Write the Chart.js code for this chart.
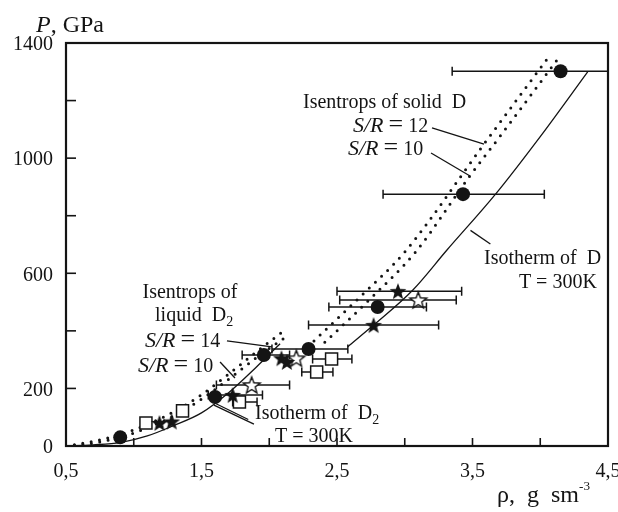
<!DOCTYPE html>
<html><head><meta charset="utf-8">
<script src="https://cdn.jsdelivr.net/npm/chart.js@4.4.0/dist/chart.umd.min.js"></script>
<style>html,body{margin:0;padding:0;background:#fff;}canvas{display:block;}</style>
</head><body>
<canvas id="c" width="618" height="512"></canvas>
<script>
// ---------- DATA ----------
const xTickLabels = {"0.5":"0,5","1.5":"1,5","2.5":"2,5","3.5":"3,5","4.5":"4,5"};
const yTickLabels = {"0":"0","200":"200","600":"600","1000":"1000","1400":"1400"};

// filled circles
const circX   = [0.90, 1.60, 1.96, 2.29, 2.80, 3.43, 4.15];
const circY   = [30, 170, 316, 337, 483, 875, 1302];
const circXLo = [null, null, 1.80, 2.02, 2.44, 2.84, 3.35];
const circXHi = [null, null, 2.15, 2.58, 3.16, 4.03, 4.60];

// filled stars
const starX   = [1.19, 1.28, 1.73, 2.09, 2.13, 2.77, 2.95];
const starY   = [80, 85, 177, 305, 292, 420, 538];
const starXLo = [null, null, 1.55, null, null, 2.29, 2.50];
const starXHi = [null, null, 1.95, null, null, 3.25, 3.42];

// open stars
const ostarX   = [1.87, 2.20, 3.10];
const ostarY   = [212, 305, 507];
const ostarXLo = [1.61, null, 2.52];
const ostarXHi = [2.15, null, 3.38];

// open squares
const sqX   = [1.09, 1.36, 1.78, 2.46, 2.35];
const sqY   = [80, 122, 153, 302, 257];
const sqXLo = [null, null, 1.73, 2.32, 2.24];
const sqXHi = [null, null, 1.91, 2.61, 2.47];

// isotherm of D2 (T=300K)
const isoD2X = [0.5, 0.7, 0.9, 1.1, 1.3, 1.5, 1.7, 1.9, 2.08];
const isoD2Y = [0, 4, 12, 35, 72, 115, 185, 272, 355];
// isotherm of D (T=300K)
const isoDX = [2.58, 2.77, 3.06, 3.31, 3.67, 4.0, 4.35];
const isoDY = [345, 420, 542, 680, 875, 1075, 1300];
// isentropes of liquid D2
const liq14X = [0.5, 0.7, 0.9, 1.1, 1.3, 1.5, 1.7, 1.9, 2.12];
const liq14Y = [0, 16, 40, 75, 120, 178, 250, 325, 405];
const liq10X = [0.5, 0.7, 0.9, 1.1, 1.3, 1.5, 1.7, 1.9, 2.15];
const liq10Y = [0, 10, 30, 63, 106, 163, 232, 305, 388];
// isentropes of solid D
const sol12X = [2.33, 2.67, 3.0, 3.585, 4.05];
const sol12Y = [365, 518, 674, 1049, 1344];
const sol10X = [2.41, 2.76, 3.08, 3.48, 3.71, 4.13];
const sol10Y = [360, 518, 674, 938, 1080, 1345];

// ---------- HELPERS ----------
const INK = '#141414';
const SERIF = '"Liberation Serif", "DejaVu Serif", serif';
const pts = (xs, ys) => xs.map((x, i) => ({x: x, y: ys[i]}));
const ptsErr = (xs, ys, lo, hi) => xs.map((x, i) => ({x: x, y: ys[i], lo: lo[i], hi: hi[i]}));

function starCanvas(filled) {
  const s = 22, c = document.createElement('canvas');
  c.width = s; c.height = s;
  const g = c.getContext('2d');
  g.beginPath();
  for (let i = 0; i < 10; i++) {
    const r = (i % 2) ? 3.7 : 8.8;
    const a = -Math.PI / 2 + i * Math.PI / 5;
    g.lineTo(s / 2 + r * Math.cos(a), s / 2 + 0.8 + r * Math.sin(a));
  }
  g.closePath();
  if (filled) { g.fillStyle = INK; g.fill(); }
  else { g.fillStyle = '#fff'; g.fill(); g.lineWidth = 1.4; g.strokeStyle = INK; g.stroke(); }
  return c;
}
const starFilled = starCanvas(true);
const starOpen = starCanvas(false);

function lineDs(xs, ys, dotted) {
  return {
    type: 'line', data: pts(xs, ys), showLine: true, pointRadius: 0,
    borderColor: INK, borderWidth: dotted ? 3 : 1.3,
    borderDash: dotted ? [0, 8.5] : [], borderCapStyle: dotted ? 'round' : 'butt',
    cubicInterpolationMode: 'monotone', fill: false, order: 10
  };
}

// rich text: parts [{t, it, sub, sup, k}] ; k = size factor
function rich(ctx, x, y, parts, size, align) {
  size = size || 20;
  let w = 0;
  const fonts = parts.map(p => {
    let fs = size * (p.k || 1);
    if (p.sub) fs = size * 0.7;
    if (p.sup) fs = size * 0.55;
    const f = (p.it ? 'italic ' : '') + fs + 'px ' + SERIF;
    ctx.font = f; const pw = ctx.measureText(p.t).width; w += pw;
    return {f, pw};
  });
  let cx = align === 'center' ? x - w / 2 : (align === 'right' ? x - w : x);
  ctx.textBaseline = 'alphabetic'; ctx.textAlign = 'left'; ctx.fillStyle = INK;
  parts.forEach((p, i) => {
    ctx.font = fonts[i].f;
    const dy = p.sub ? size * 0.25 : (p.sup ? -size * 0.5 : 0);
    ctx.fillText(p.t, cx, y + size * 0.33 + dy);
    cx += fonts[i].pw;
  });
}
const SR = v => [{t: 'S', it: true, k: 1.1}, {t: '/', it: true, k: 1.1}, {t: 'R', it: true, k: 1.1},
                 {t: ' '}, {t: '=', k: 1.3}, {t: ' ' + v}];

const chartPlugin = {
  id: 'decor',
  beforeDatasetsDraw(chart) {
    const {ctx, chartArea: a, scales: {x, y}} = chart;
    ctx.save();
    ctx.beginPath(); ctx.rect(a.left, a.top, a.right - a.left, a.bottom - a.top); ctx.clip();
    ctx.strokeStyle = INK; ctx.lineWidth = 1.5;
    chart.data.datasets.forEach(ds => {
      if (!ds.errorBars) return;
      ds.data.forEach(p => {
        if (p.lo == null) return;
        const py = y.getPixelForValue(p.y);
        const x1 = x.getPixelForValue(p.lo), x2 = x.getPixelForValue(p.hi);
        ctx.beginPath();
        ctx.moveTo(x1, py); ctx.lineTo(x2, py);
        ctx.moveTo(x1, py - 4.5); ctx.lineTo(x1, py + 4.5);
        ctx.moveTo(x2, py - 4.5); ctx.lineTo(x2, py + 4.5);
        ctx.stroke();
      });
    });
    ctx.restore();
  },
  afterDraw(chart) {
    const {ctx, chartArea: a, scales: {x, y}} = chart;
    const X = v => x.getPixelForValue(v), Y = v => y.getPixelForValue(v);
    ctx.save();
    // frame
    ctx.strokeStyle = INK; ctx.lineWidth = 2.2;
    ctx.strokeRect(a.left, a.top, a.right - a.left, a.bottom - a.top);
    // inward tick marks
    ctx.lineWidth = 1.6;
    x.ticks.forEach(t => {
      if (t.value <= x.min || t.value >= x.max) return;
      const px = X(t.value);
      ctx.beginPath(); ctx.moveTo(px, a.bottom); ctx.lineTo(px, a.bottom - 8); ctx.stroke();
    });
    y.ticks.forEach(t => {
      if (t.value <= y.min || t.value >= y.max) return;
      const py = Y(t.value);
      ctx.beginPath(); ctx.moveTo(a.left, py); ctx.lineTo(a.left + 10, py); ctx.stroke();
    });
    // axis titles
    rich(ctx, 36, 24, [{t: 'P', it: true}, {t: ', GPa'}], 24);
    rich(ctx, 497, 494, [{t: 'ρ,  g  sm'}, {t: '-3', sup: true}], 24);

    // pointer lines
    ctx.lineWidth = 1.3;
    const seg = (x1, y1, x2, y2) => { ctx.beginPath(); ctx.moveTo(X(x1), Y(y1)); ctx.lineTo(X(x2), Y(y2)); ctx.stroke(); };
    seg(3.201, 1105, 3.585, 1049);
    seg(3.194, 1018, 3.482, 938);
    seg(3.485, 749, 3.632, 702);
    seg(1.688, 365, 2.020, 344);
    seg(1.637, 292, 1.747, 236);
    seg(1.887, 76, 1.592, 142);
    seg(1.845, 92, 1.585, 152);

    // annotation texts
    rich(ctx, X(2.249), Y(1198), [{t: 'Isentrops of solid  D'}]);
    rich(ctx, X(2.618), Y(1115), SR('12'));
    rich(ctx, X(2.581), Y(1035), SR('10'));
    rich(ctx, X(3.585), Y(655), [{t: 'Isotherm of  D'}]);
    rich(ctx, X(4.13), Y(572), [{t: 'T = 300K'}], 20, 'center');
    rich(ctx, X(1.415), Y(538), [{t: 'Isentrops of'}], 20, 'center');
    rich(ctx, X(1.157), Y(458), [{t: 'liquid  D'}, {t: '2', sub: true}]);
    rich(ctx, X(1.083), Y(368), SR('14'));
    rich(ctx, X(1.031), Y(281), SR('10'));
    rich(ctx, X(1.895), Y(118), [{t: 'Isotherm of  D'}, {t: '2', sub: true}]);
    rich(ctx, X(2.042), Y(38), [{t: 'T = 300K'}]);
    ctx.restore();
  }
};

Chart.defaults.font.family = SERIF;
Chart.defaults.font.size = 20;
Chart.defaults.color = INK;

new Chart(document.getElementById('c'), {
  type: 'scatter',
  data: {
    datasets: [
      {label: 'circles', data: ptsErr(circX, circY, circXLo, circXHi), errorBars: true,
       pointStyle: 'circle', pointRadius: 7, backgroundColor: INK, borderColor: INK, borderWidth: 0, order: 1},
      {label: 'stars', data: ptsErr(starX, starY, starXLo, starXHi), errorBars: true,
       pointStyle: starFilled, pointRadius: 8, order: 2},
      {label: 'open stars', data: ptsErr(ostarX, ostarY, ostarXLo, ostarXHi), errorBars: true,
       pointStyle: starOpen, pointRadius: 8, order: 3},
      {label: 'squares', data: ptsErr(sqX, sqY, sqXLo, sqXHi), errorBars: true,
       pointStyle: 'rect', pointRadius: 8.5, backgroundColor: '#fff', borderColor: INK, borderWidth: 1.5, order: 4},
      lineDs(isoD2X, isoD2Y, false),
      lineDs(isoDX, isoDY, false),
      lineDs(liq14X, liq14Y, true),
      lineDs(liq10X, liq10Y, true),
      lineDs(sol12X, sol12Y, true),
      lineDs(sol10X, sol10Y, true)
    ]
  },
  options: {
    responsive: false, animation: false, devicePixelRatio: 1,
    layout: {padding: {top: 43, right: 10, left: 0, bottom: 0}},
    plugins: {legend: {display: false}, tooltip: {enabled: false}},
    scales: {
      x: {
        type: 'linear', min: 0.5, max: 4.5,
        grid: {display: false, drawTicks: false}, border: {display: false},
        ticks: {stepSize: 0.5, autoSkip: false, maxRotation: 0, padding: 14,
          callback: v => xTickLabels[String(v)] || ''},
        afterFit: s => { s.height = 66; s.paddingLeft = 0; s.paddingRight = 0; }
      },
      y: {
        type: 'linear', min: 0, max: 1400,
        grid: {display: false, drawTicks: false}, border: {display: false},
        ticks: {stepSize: 200, autoSkip: false, padding: 13, labelOffset: 2,
          callback: v => yTickLabels[String(v)] || ''},
        afterFit: s => { s.width = 66; s.paddingTop = 0; s.paddingBottom = 0; }
      }
    }
  },
  plugins: [chartPlugin]
});
</script>
</body></html>
